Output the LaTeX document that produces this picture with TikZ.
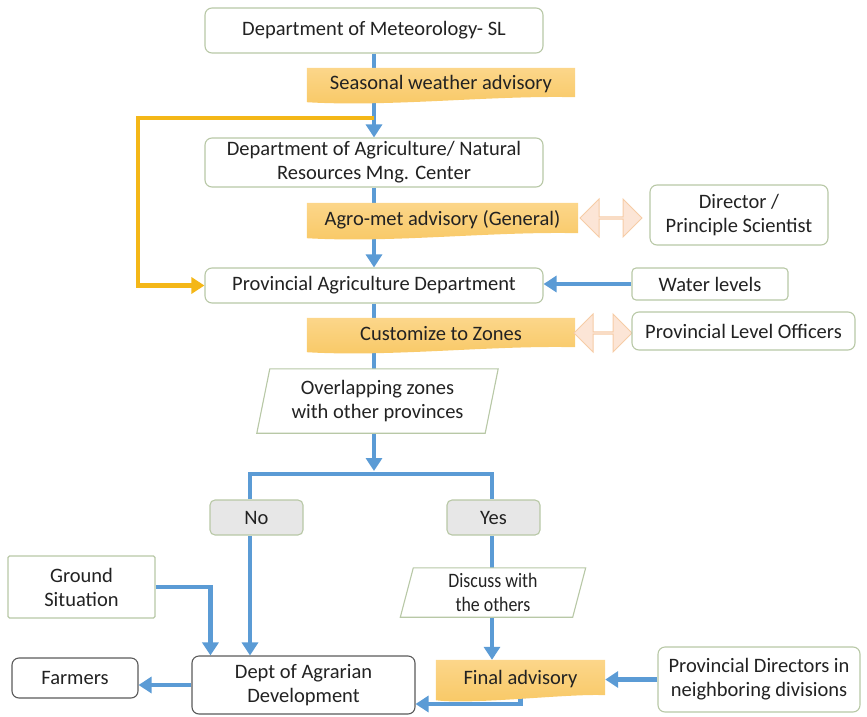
\documentclass[tikz,border=0pt]{standalone}
\usepackage{fontspec}
\usepackage{graphicx}
\setmainfont{Carlito}
\usetikzlibrary{arrows.meta,calc,shapes.arrows}
\pgfdeclarelayer{lines}
\pgfdeclarelayer{bands}
\pgfsetlayers{lines,bands,main}

\definecolor{flowblue}{RGB}{91,155,213}
\definecolor{loopgold}{RGB}{244,183,24}
\definecolor{bandtop}{RGB}{252,214,138}
\definecolor{bandbot}{RGB}{248,200,100}
\definecolor{boxedge}{RGB}{184,200,166}
\definecolor{darkedge}{RGB}{90,90,90}
\definecolor{peach}{RGB}{252,229,214}
\definecolor{peachedge}{RGB}{246,204,166}
\definecolor{choicefill}{RGB}{231,231,231}
\definecolor{ink}{RGB}{34,34,34}

\tikzset{
  every node/.style={text=ink, font=\fontsize{20.5}{24}\selectfont},
  box/.style={draw=boxedge, line width=1.1pt, fill=white, rounded corners=7pt,
    inner sep=0pt, align=center},
  darkbox/.style={box, draw=darkedge},
  choice/.style={box, fill=choicefill},
  band/.style={inner sep=0pt, align=center},
  slanted/.style={inner sep=0pt, align=center},
  swap/.style={double arrow, double arrow head extend=8pt, double arrow head indent=0pt,
    fill=peach, draw=peachedge, line width=1pt, inner sep=0pt, minimum width=38pt},
  flow/.style={draw=flowblue, line width=4.6pt,
    -{Triangle[width=16pt,length=13pt]}},
  plain/.style={draw=flowblue, line width=4.6pt},
  loopline/.style={draw=loopgold, line width=4.6pt,
    -{Triangle[width=16pt,length=13pt]}},
}

% narrow lettering
\newcommand\narrow[1]{\scalebox{0.87}[1]{#1}}

% advisory band with a wavy lower edge, drawn under the node text
\newcommand\docband[1]{%
  \shade[top color=bandtop, bottom color=bandbot]
    (#1.north west) -- (#1.north east) -- ($(#1.south east)+(0,-3)$)
    .. controls ($(#1.south)+(50,-5)$) and ($(#1.south)+(-50,7)$) ..
    ($(#1.south west)+(0,2)$) -- cycle;}

% parallelogram outline around a node
\newcommand\slantbox[2]{%
  \draw[draw=boxedge, line width=1.1pt, fill=white]
    ($(#1.north west)+(#2,0)$) -- (#1.north east)
    -- ($(#1.south east)+(-#2,0)$) -- (#1.south west) -- cycle;}

\begin{document}
\begin{tikzpicture}[x=1pt, y=-1pt]
\useasboundingbox (0,0) rectangle (867,717);

% ---------- nodes ----------
\node[box, minimum width=338pt, minimum height=45pt] (met) at (374,30.5) {Department of Meteorology- SL};
\node[band, minimum width=268pt, minimum height=32pt] (swa) at (441,84) {Seasonal weather advisory};
\node[box, minimum width=338pt, minimum height=49pt] (doa) at (374,162.5)
  {Department of Agriculture/ Natural\\Resources Mng. Center};
\node[band, minimum width=271pt, minimum height=33pt] (amg) at (442.5,219.5) {Agro-met advisory (General)};
\node[swap, minimum height=62pt] (dbla) at (611,218) {};
\node[box, minimum width=178pt, minimum height=60pt] (dir) at (739,215) {Director /\\Principle Scientist};
\node[box, minimum width=338pt, minimum height=35pt] (prov) at (374,285.5) {Provincial Agriculture Department};
\node[box, rounded corners=4pt, minimum width=156pt, minimum height=32pt] (water) at (710,284) {Water levels};
\node[band, minimum width=268pt, minimum height=32pt] (ctz) at (441,334) {Customize to Zones};
\node[swap, minimum height=58pt] (dblb) at (603,333) {};
\node[box, minimum width=223pt, minimum height=38pt] (plo) at (743.5,331) {Provincial Level Officers};

\node[slanted, minimum width=241pt, minimum height=64pt] (ovl) at (377.5,401) {Overlapping zones\\with other provinces};

\node[choice, rounded corners=5pt, minimum width=93pt, minimum height=35pt] (no) at (256.5,517.5) {No};
\node[choice, rounded corners=5pt, minimum width=93pt, minimum height=35pt] (yes) at (493.5,517.5) {Yes};

\node[box, rounded corners=1.5pt, minimum width=147pt, minimum height=62pt] (ground) at (81.5,587) {Ground\\Situation};
\node[slanted, minimum width=185pt, minimum height=49pt] (disc) at (493,592.5)
  {\narrow{Discuss with}\\\narrow{the others}};
\node[darkbox, minimum width=223pt, minimum height=58pt] (agr) at (303.5,685) {Dept of Agrarian\\Development};
\node[darkbox, minimum width=126pt, minimum height=40pt] (farm) at (75,678) {Farmers};
\node[band, minimum width=169pt, minimum height=38pt] (fin) at (520.5,679) {Final advisory};
\node[box, minimum width=202pt, minimum height=65pt] (pdir) at (759,679.5)
  {Provincial Directors in\\neighboring divisions};

\coordinate (loopstart) at (374,118);
\coordinate (split) at (374,471);
\coordinate (bl) at (250,474);
\coordinate (br) at (492,474);

% ---------- band fills and slanted outlines ----------
\begin{pgfonlayer}{bands}
  \docband{swa}
  \docband{amg}
  \docband{ctz}
  \docband{fin}
  \slantbox{ovl}{13}
  \slantbox{disc}{13}
\end{pgfonlayer}

% ---------- connectors ----------
\begin{pgfonlayer}{lines}
  \draw[flow] (met.south) -- (doa.north);
  \draw[loopline, line join=miter] (loopstart) -- ++(-236,0) |- (prov.west);
  \draw[flow] (doa.south) -- (prov.north);
  \draw[flow] (water.west) -- (prov.east |- water.west);
  \draw[plain] (prov.south) -- (prov.south |- ovl.north);
  \draw[flow] (prov.south |- ovl.south) -- (split);
  \draw[plain, line join=miter] (no.north -| bl) -- (bl) -- (br) -- (yes.north -| br);
  \draw[flow] (no.south -| bl) -- (agr.north -| bl);
  \draw[plain] (yes.south -| br) -- (disc.north -| br);
  \draw[flow] (disc.south -| br) -- (fin.north -| br);
  \draw[flow, line join=miter] (ground.east) -| ($(agr.north west)+(19,0)$);
  \draw[flow] (agr.west) -- (farm.east |- agr.west);
  \draw[flow] (pdir.west) -- (fin.east |- pdir.west);
  \draw[flow, line join=miter] ($(fin.south)+(0,-6)$) |- ($(agr.east)+(0,19)$);
\end{pgfonlayer}
\end{tikzpicture}
\end{document}
